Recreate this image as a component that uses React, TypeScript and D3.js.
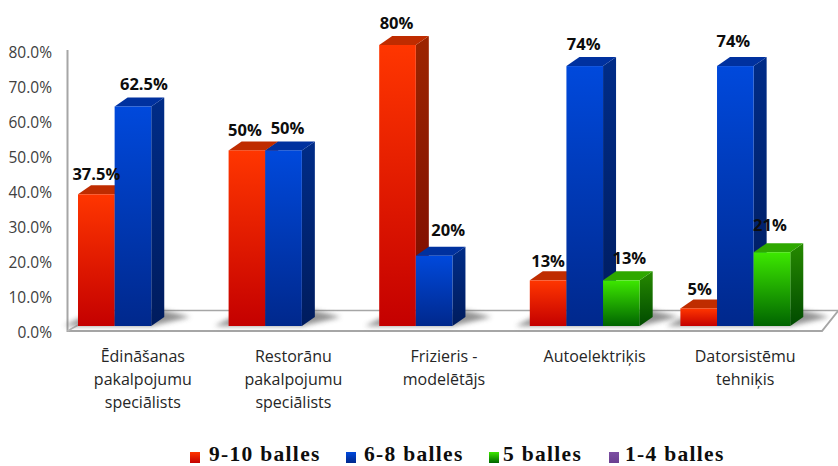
import React from "react";
import * as d3 from "d3";

const categories = ["Ēdināšanas pakalpojumu speciālists", "Restorānu pakalpojumu speciālists", "Frizieris - modelētājs", "Autoelektriķis", "Datorsistēmu tehniķis"];
const categoryLines = [["Ēdināšanas", "pakalpojumu", "speciālists"], ["Restorānu", "pakalpojumu", "speciālists"], ["Frizieris -", "modelētājs"], ["Autoelektriķis"], ["Datorsistēmu", "tehniķis"]];
const seriesNames = ["9-10 balles", "6-8 balles", "5 balles", "1-4 balles"];
const values910 = [37.5, 50, 80, 13, 5];
const values68 = [62.5, 50, 20, 74, 74];
const values5 = [null, null, null, 13, 21];
const values14 = [null, null, null, null, null];
const labels910 = ["37.5%", "50%", "80%", "13%", "5%"];
const labels68 = ["62.5%", "50%", "20%", "74%", "74%"];
const labels5 = ["", "", "", "13%", "21%"];
const yTicks = [0, 10, 20, 30, 40, 50, 60, 70, 80];

const seriesValues = [values910, values68, values5, values14];
const seriesLabels = [labels910, labels68, labels5, ["", "", "", "", ""]];
const labelNudge = [
  [[0, 0], [-2, 0], [-1, -2], [0, 1], [1, 1]],
  [[11, -2], [4, -2], [14, -6], [-1, -2], [-2, -5]],
  [[0, 0], [0, 0], [0, 0], [8, -2], [-2, -7]],
];
const colors = [
  { id: "r", a: "#ff3600", b: "#c40000", top: "#bf2c00", sa: "#9c2500", sb: "#7a0a00" },
  { id: "b", a: "#0049dc", b: "#00288c", top: "#00319f", sa: "#002c88", sb: "#001c5e" },
  { id: "g", a: "#3de800", b: "#006400", top: "#2ea800", sa: "#268a00", sb: "#004a00" },
  { id: "p", a: "#7d4fa3", b: "#6a3f90", top: "#5d3a80", sa: "#4e2f70", sb: "#3f2560" },
];
const legendX = [190, 346, 489, 609];
const legendTextX = [209, 364, 503, 625];

const dx = 13, dy = 9;
const W = 838, H = 466;

export default function App() {
  const x0 = d3.scaleBand<string>().domain(categories).range([67.5, 820.5]);
  const x1 = d3.scaleBand<string>().domain(seriesNames).range([10.5, 157]);
  const yBar = d3.scaleLinear().domain([0, 80]).range([326, 45]);
  const yAxis = d3.scaleLinear().domain([0, 80]).range([332, 52]);
  const w = x1.bandwidth();
  const base = yBar(0);

  return (
    <svg width={W} height={H} viewBox={`0 0 ${W} ${H}`} style={{ position: "absolute", left: 0, top: 0, background: "#fff" }}>
      <defs>
        {colors.map((c) => (
          <React.Fragment key={c.id}>
            <linearGradient id={`front-${c.id}`} x1="0" x2="0" y1="0" y2="1">
              <stop offset="0" stopColor={c.a} /><stop offset="1" stopColor={c.b} />
            </linearGradient>
            <linearGradient id={`side-${c.id}`} x1="0" x2="0" y1="0" y2="1">
              <stop offset="0" stopColor={c.sa} /><stop offset="1" stopColor={c.sb} />
            </linearGradient>
          </React.Fragment>
        ))}
        <filter id="soft" x="-30%" y="-60%" width="160%" height="220%"><feGaussianBlur stdDeviation="2.5" /></filter>
      </defs>

      <path d="M67.5 50 V331 H822 L838 311" fill="none" stroke="#a6a6a6" strokeWidth={2} />
      <path d="M67.5 331 L80 324" fill="none" stroke="#b8b8b8" strokeWidth={1.5} />
      <path d="M80 310.5 H838" fill="none" stroke="#a6a6a6" strokeWidth={1.5} />

      {yTicks.map((t) => (
        <text key={t} x={52} y={yAxis(t)} textAnchor="end" dominantBaseline="central" fontFamily="'Open Sans'" fontSize={15.5} fill="#404040">{t.toFixed(1)}%</text>
      ))}

      {categories.map((cat, ci) => {
        const gx = x0(cat)!;
        const drawn = seriesNames.map((s, si) => ({ s, si, v: seriesValues[si][ci] })).filter((d) => d.v != null);
        const last = drawn[drawn.length - 1];
        const right = gx + x1(last.s)! + w + dx;
        return (
          <g key={cat}>
            <path d={`M${gx + x1(seriesNames[0])! - 14} ${base} L${right - dx} ${base} L${right + 26} ${base - 9} L${right - 2} ${base - 16} L${gx + x1(seriesNames[0])! + 2} ${base - 8} Z`} fill="#6e6e6e" opacity={0.75} filter="url(#soft)" />
            {drawn.map(({ s, si, v }) => {
              const c = colors[si];
              const x = gx + x1(s)!;
              const y = yBar(v as number);
              return (
                <g key={s}>
                  <path d={`M${x + w} ${y} L${x + w + dx} ${y - dy} V${base - dy} L${x + w} ${base} Z`} fill={`url(#side-${c.id})`} />
                  <path d={`M${x} ${y} L${x + dx} ${y - dy} H${x + w + dx} L${x + w} ${y} Z`} fill={c.top} />
                  <rect x={x} y={y} width={w} height={base - y} fill={`url(#front-${c.id})`} />
                </g>
              );
            })}
            {categoryLines[ci].map((line, li) => (
              <text key={li} x={gx + x0.bandwidth() / 2} y={361.5 + li * 23} textAnchor="middle" fontFamily="'Open Sans'" fontSize={16} fill="#262626">{line}</text>
            ))}
          </g>
        );
      })}

      {categories.map((cat, ci) =>
        seriesNames.slice(0, 3).map((s, si) => {
          const v = seriesValues[si][ci];
          if (v == null) return null;
          const [nx, ny] = labelNudge[si][ci];
          return (
            <text key={s} x={x0(cat)! + x1(s)! + w / 2 + nx} y={yBar(v) - 14 + ny} textAnchor="middle" fontFamily="'Open Sans'" fontWeight={700} fontSize={16.5} fill="#0d0d0d">{seriesLabels[si][ci]}</text>
          );
        })
      )}

      {seriesNames.map((s, i) => (
        <g key={s}>
          <rect x={legendX[i]} y={452} width={10} height={11} fill={`url(#front-${colors[i].id})`} />
          <text x={legendTextX[i]} y={461} fontFamily="'Liberation Serif'" fontWeight={700} fontSize={21.5} fill="#0d0d0d" letterSpacing={1.3}>{s}</text>
        </g>
      ))}
    </svg>
  );
}
